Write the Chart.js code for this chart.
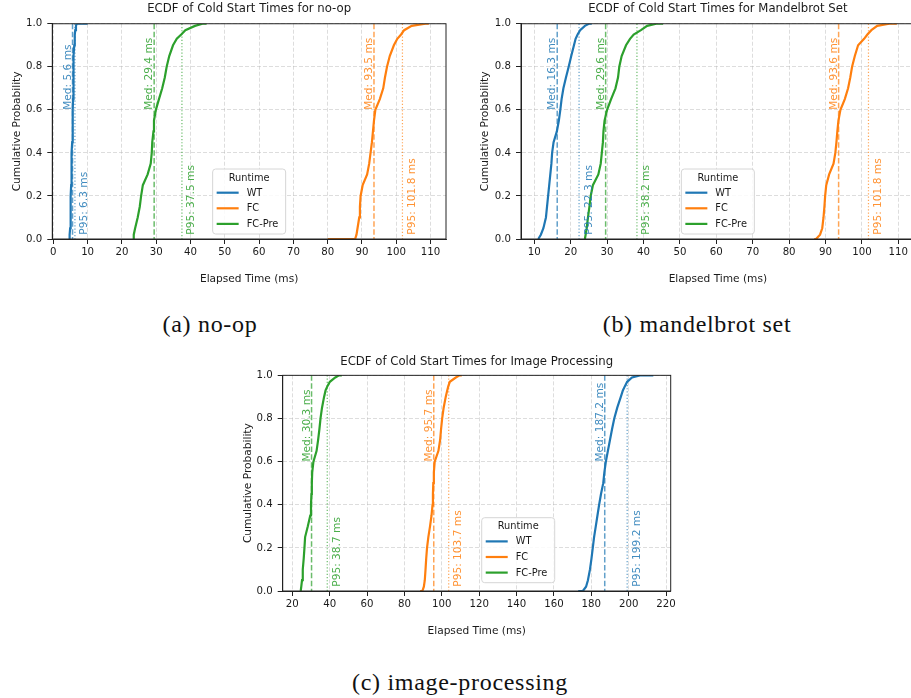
<!DOCTYPE html>
<html>
<head>
<meta charset="utf-8">
<script src="https://cdn.jsdelivr.net/npm/chart.js@4.4.1/dist/chart.umd.min.js"></script>
<style>
  html, body { margin: 0; padding: 0; background: #fff; }
  #page { position: relative; width: 911px; height: 698px; overflow: hidden; background: #fff; }
  .plot { position: absolute; }
  .caption {
    position: absolute;
    transform: translateX(-50%);
    white-space: nowrap;
    font-family: 'Liberation Serif', serif;
    font-size: 24px;
    letter-spacing: 0.7px;
    line-height: 28px;
    color: #111;
  }
</style>
</head>
<body>
<div id="page">
  <canvas id="chart-noop" class="plot" width="455" height="300" style="left:0;top:0"></canvas>
  <canvas id="chart-mandel" class="plot" width="455" height="300" style="left:470px;top:0"></canvas>
  <canvas id="chart-img" class="plot" width="460" height="300" style="left:230px;top:345px"></canvas>
  <div class="caption" style="left:210px;top:310px">(a) no-op</div>
  <div class="caption" style="left:697px;top:310px">(b) mandelbrot set</div>
  <div class="caption" style="left:460px;top:668px">(c) image-processing</div>
</div>
<script>
// Cumulative probability levels shared by every ECDF curve
// (0 and 1 appear twice so the flat start / end runs can be drawn)
const levels = [0, 0, 0.02, 0.05, 0.1, 0.15, 0.2, 0.25, 0.3, 0.35, 0.4, 0.45, 0.5, 0.55, 0.6,
  0.65, 0.7, 0.75, 0.8, 0.85, 0.9, 0.93, 0.95, 0.97, 0.99, 1, 1]

const runtimes = ['WT', 'FC', 'FC-Pre']
const runtimeColors = ['#1f77b4', '#ff7f0e', '#2ca02c']

// Elapsed time (ms) at each level, no-op
const noopWT = [4.7, 4.7, 4.8, 4.9, 5.0, 5.05, 5.1, 5.2, 5.25, 5.3, 5.4, 5.5, 5.6, 5.65, 5.7,
  5.75, 5.8, 5.85, 5.9, 6.0, 6.1, 6.2, 6.3, 6.4, 6.6, 6.8, 10.0]
const noopFC = [80.0, 88.0, 88.4, 88.7, 89.2, 89.4, 89.6, 90.2, 91.5, 92.1, 92.5, 92.9, 93.2, 93.5, 93.9,
  95.2, 96.2, 96.7, 97.3, 98.1, 99.3, 100.3, 101.4, 102.3, 104.5, 108.5, 109.5]
const noopPre = [23.4, 23.4, 23.5, 23.85, 24.6, 25.2, 25.6, 26.1, 27.5, 28.4, 28.7, 28.85, 29.2, 29.35, 29.9,
  30.8, 31.75, 32.5, 33.05, 33.8, 34.9, 36.0, 37.3, 38.5, 41.3, 43.5, 44.7]
const noopMed = [5.6, 93.5, 29.4]
const noopP95 = [6.3, 101.8, 37.5]

// Mandelbrot set
const mandelWT = [11.1, 11.1, 11.8, 12.5, 13.2, 13.5, 13.8, 14.1, 14.4, 14.7, 14.9, 15.3, 16.2, 16.75, 17.15,
  17.5, 18.0, 18.7, 19.45, 20.15, 20.9, 21.35, 21.9, 22.6, 23.9, 25.0, 25.8]
const mandelFC = [86.9, 87.4, 88.5, 89.1, 89.45, 89.7, 89.9, 90.2, 91.0, 92.2, 92.7, 93.0, 93.25, 93.55, 94.1,
  95.3, 96.2, 96.8, 97.3, 98.05, 98.95, 100.6, 101.5, 102.6, 104.2, 107.5, 109.6]
const mandelPre = [23.9, 23.9, 24.1, 24.4, 24.75, 25.15, 25.5, 26.1, 27.6, 28.25, 28.55, 28.85, 29.0, 29.3, 30.0,
  31.1, 32.3, 33.0, 33.35, 34.0, 35.2, 36.3, 37.3, 39.3, 41.0, 43.5, 45.4]
const mandelMed = [16.3, 93.6, 29.6]
const mandelP95 = [22.3, 101.8, 38.2]

// Image processing
const imgWT = [173.0, 175.5, 177.2, 178.2, 179.3, 180.1, 180.8, 181.5, 182.4, 183.3, 184.2, 185.2, 186.4, 187.0, 187.8,
  188.9, 190.0, 191.1, 192.3, 193.9, 195.8, 196.9, 198.0, 199.2, 201.8, 206.0, 213.2]
const imgFC = [88.4, 89.6, 90.4, 90.9, 91.3, 91.65, 92.1, 92.8, 93.7, 94.5, 95.05, 95.25, 95.45, 95.75, 96.2,
  98.2, 99.1, 99.6, 100.2, 101.0, 102.1, 102.9, 103.5, 104.3, 107.5, 109.5, 110.7]
const imgPre = [24.5, 24.5, 24.8, 25.2, 25.6, 26.1, 26.5, 26.85, 28.3, 29.6, 30.0, 30.25, 30.45, 30.65, 31.3,
  33.0, 33.8, 34.5, 35.1, 35.9, 37.0, 37.8, 38.8, 40.1, 43.0, 45.0, 46.5]
const imgMed = [187.2, 95.7, 30.3]
const imgP95 = [199.2, 103.7, 38.7]

// Tick labels
const noopTicks = [0, 10, 20, 30, 40, 50, 60, 70, 80, 90, 100, 110]
const mandelTicks = [10, 20, 30, 40, 50, 60, 70, 80, 90, 100, 110]
const imgTicks = [20, 40, 60, 80, 100, 120, 140, 160, 180, 200, 220]
const probTicks = [0, 0.2, 0.4, 0.6, 0.8, 1.0]

Chart.defaults.font.family = "'DejaVu Sans', sans-serif"
Chart.defaults.color = '#1a1a1a'

function rgba(hex, a) {
  const n = parseInt(hex.slice(1), 16)
  return `rgba(${(n >> 16) & 255}, ${(n >> 8) & 255}, ${n & 255}, ${a})`
}

// Median / P95 vertical lines with rotated labels
const ecdfMarks = {
  id: 'ecdfMarks',
  afterDatasetsDraw(chart, args, opts) {
    const { ctx, chartArea: area, scales: { x, y } } = chart
    ctx.save()
    ctx.font = "10.6px 'DejaVu Sans'"
    ctx.textAlign = 'left'
    ctx.textBaseline = 'alphabetic'
    runtimeColors.forEach((color, i) => {
      const mx = x.getPixelForValue(opts.med[i])
      const px = x.getPixelForValue(opts.p95[i])

      ctx.strokeStyle = rgba(color, 0.7)
      ctx.lineWidth = 1.5
      ctx.setLineDash([5.5, 2.4])
      ctx.beginPath()
      ctx.moveTo(mx, area.top)
      ctx.lineTo(mx, area.bottom)
      ctx.stroke()

      ctx.lineWidth = 1.2
      ctx.setLineDash([1.2, 2])
      ctx.beginPath()
      ctx.moveTo(px, area.top)
      ctx.lineTo(px, area.bottom)
      ctx.stroke()
      ctx.setLineDash([])

      ctx.fillStyle = rgba(color, 0.85)
      ctx.save()
      ctx.translate(mx - 2, y.getPixelForValue(0.6))
      ctx.rotate(-Math.PI / 2)
      ctx.fillText(`Med: ${opts.med[i].toFixed(1)} ms`, 0, 0)
      ctx.restore()

      ctx.save()
      ctx.translate(px + 12.5, y.getPixelForValue(0.02))
      ctx.rotate(-Math.PI / 2)
      ctx.fillText(`P95: ${opts.p95[i].toFixed(1)} ms`, 0, 0)
      ctx.restore()
    })
    ctx.restore()
  }
}

// Framed legend inside the axes + top/right spines
const boxLegend = {
  id: 'boxLegend',
  afterDraw(chart, args, opts) {
    const { ctx, chartArea: area } = chart

    ctx.save()
    ctx.strokeStyle = '#222'
    ctx.lineWidth = 1
    ctx.strokeRect(area.left, area.top, area.right - area.left, area.bottom - area.top)

    const w = 73, h = 65, r = 3
    const cx = area.left + opts.cx * (area.right - area.left)
    const left = cx - w / 2
    const top = area.bottom - opts.gap - h
    ctx.beginPath()
    ctx.moveTo(left + r, top)
    ctx.lineTo(left + w - r, top)
    ctx.arcTo(left + w, top, left + w, top + r, r)
    ctx.lineTo(left + w, top + h - r)
    ctx.arcTo(left + w, top + h, left + w - r, top + h, r)
    ctx.lineTo(left + r, top + h)
    ctx.arcTo(left, top + h, left, top + h - r, r)
    ctx.lineTo(left, top + r)
    ctx.arcTo(left, top, left + r, top, r)
    ctx.closePath()
    ctx.fillStyle = 'rgba(255,255,255,0.85)'
    ctx.fill()
    ctx.strokeStyle = '#d6d6d6'
    ctx.stroke()

    ctx.font = "9.8px 'DejaVu Sans'"
    ctx.fillStyle = '#1a1a1a'
    ctx.textBaseline = 'middle'
    ctx.textAlign = 'center'
    ctx.fillText('Runtime', cx, top + 9)
    ctx.textAlign = 'left'
    chart.data.datasets.forEach((ds, i) => {
      const ey = top + 23.7 + i * 15.6
      ctx.strokeStyle = ds.borderColor
      ctx.lineWidth = 2.2
      ctx.beginPath()
      ctx.moveTo(left + 4, ey)
      ctx.lineTo(left + 26, ey)
      ctx.stroke()
      ctx.fillText(ds.label, left + 34, ey + 0.5)
    })
    ctx.restore()
  }
}

const gridOpts = {
  color: 'rgba(176, 176, 176, 0.55)',
  lineWidth: 0.8,
  tickLength: 5,
  tickColor: '#222',
  tickWidth: 1,
  tickBorderDash: []
}
const borderOpts = { display: true, color: '#222', width: 1, dash: [4, 2] }

function buildChart(id, cfg) {
  const el = document.getElementById(id)
  return new Chart(el, {
    type: 'line',
    data: {
      datasets: cfg.series.map((xs, i) => ({
        label: runtimes[i],
        data: xs.map((v, k) => ({ x: v, y: levels[k] })),
        borderColor: runtimeColors[i],
        backgroundColor: runtimeColors[i],
        borderWidth: 2.2,
        pointRadius: 0,
        tension: 0,
        fill: false
      }))
    },
    options: {
      responsive: false,
      animation: false,
      layout: { padding: { left: 0, top: 0, right: cfg.padRight, bottom: 0 } },
      plugins: {
        legend: { display: false },
        tooltip: { enabled: false },
        title: {
          display: true,
          text: cfg.title,
          fullSize: false,
          font: { size: 11.7, weight: 'normal' },
          padding: cfg.titlePad
        },
        ecdfMarks: { med: cfg.med, p95: cfg.p95 },
        boxLegend: { cx: cfg.legendCx, gap: cfg.legendGap }
      },
      scales: {
        x: {
          type: 'linear',
          min: cfg.xMin,
          max: cfg.xMax,
          afterBuildTicks: s => { s.ticks = cfg.ticks.map(v => ({ value: v })) },
          afterFit: s => { s.height = cfg.xHeight },
          ticks: { font: { size: 10.2 }, padding: 2, maxRotation: 0, autoSkip: false, callback: v => String(v) },
          grid: gridOpts,
          border: borderOpts,
          title: {
            display: true,
            text: 'Elapsed Time (ms)',
            font: { size: 10.6 },
            padding: { top: 0, bottom: cfg.xTitlePad }
          }
        },
        y: {
          type: 'linear',
          min: 0,
          max: 1,
          afterBuildTicks: s => { s.ticks = probTicks.map(v => ({ value: v })) },
          afterFit: s => { s.width = cfg.yWidth },
          ticks: { font: { size: 10.2 }, padding: 5, callback: v => Number(v).toFixed(1) },
          grid: gridOpts,
          border: borderOpts,
          title: {
            display: true,
            text: 'Cumulative Probability',
            font: { size: 10.6 },
            padding: { top: cfg.yTitlePad, bottom: 0 }
          }
        }
      }
    },
    plugins: [ecdfMarks, boxLegend]
  })
}

buildChart('chart-noop', {
  title: 'ECDF of Cold Start Times for no-op',
  series: [noopWT, noopFC, noopPre],
  med: noopMed, p95: noopP95, ticks: noopTicks,
  xMin: -0.3, xMax: 114.5,
  padRight: 9, yWidth: 52.3, xHeight: 61,
  titlePad: { top: 1.7, bottom: 8 },
  yTitlePad: 10.6, xTitlePad: 14.3,
  legendCx: 0.5, legendGap: 5
})

buildChart('chart-mandel', {
  title: 'ECDF of Cold Start Times for Mandelbrot Set',
  series: [mandelWT, mandelFC, mandelPre],
  med: mandelMed, p95: mandelP95, ticks: mandelTicks,
  xMin: 6.35, xMax: 114.5,
  padRight: 10.3, yWidth: 51, xHeight: 61,
  titlePad: { top: 1.7, bottom: 8 },
  yTitlePad: 9.1, xTitlePad: 14.3,
  legendCx: 0.5, legendGap: 5
})

buildChart('chart-img', {
  title: 'ECDF of Cold Start Times for Image Processing',
  series: [imgWT, imgFC, imgPre],
  med: imgMed, p95: imgP95, ticks: imgTicks,
  xMin: 14.86, xMax: 222.5,
  padRight: 19.3, yWidth: 52.7, xHeight: 54,
  titlePad: { top: 10, bottom: 6.3 },
  yTitlePad: 11.6, xTitlePad: 7.3,
  legendCx: 0.607, legendGap: 8.3
})
</script>
</body>
</html>
